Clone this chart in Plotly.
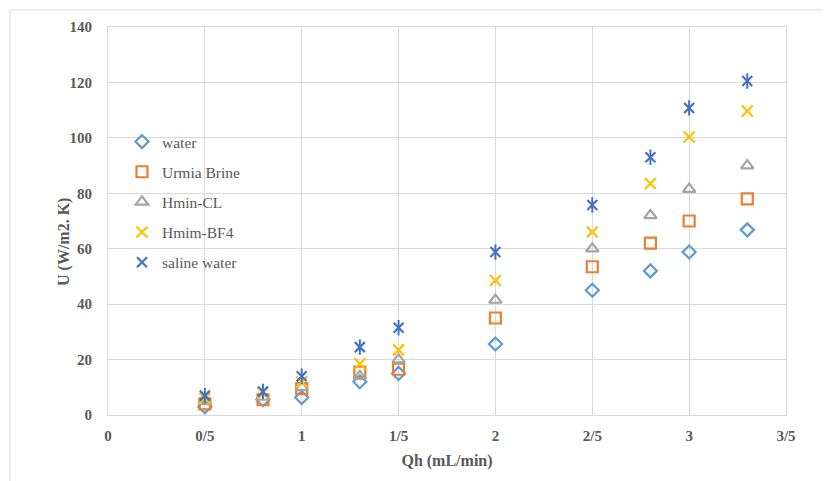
import plotly.graph_objects as go

qh = [0.5, 0.8, 1.0, 1.3, 1.5, 2.0, 2.5, 2.8, 3.0, 3.3]
water = [3, 5.5, 6.3, 12, 15, 25.6, 45, 52, 58.8, 66.8]
urmia = [4, 5.5, 9.5, 15.5, 16.5, 35, 53.5, 62, 70, 78]
hmin_cl = [5, 6.5, 10, 14, 20, 41.5, 60, 72, 81.5, 90]
hmim_bf4 = [6, 8, 12, 18.5, 23.5, 48.5, 66, 83.5, 100.3, 109.7]
saline = [7, 8.5, 14, 24.5, 31.5, 58.8, 75.8, 93, 110.8, 120.5]

x_tickvals = [0, 0.5, 1, 1.5, 2, 2.5, 3, 3.5]
x_ticktext = ["0", "0/5", "1", "1/5", "2", "2/5", "3", "3/5"]
y_tickvals = [0, 20, 40, 60, 80, 100, 120, 140]

font_fam = "Liberation Serif"
txt_col = "#595959"

fig = go.Figure()
series = [
    ("water", water, "diamond-open", "#5B9BD5", 10),
    ("Urmia Brine", urmia, "square-open", "#ED7D31", 11),
    ("Hmin-CL", hmin_cl, "triangle-up-open", "#A5A5A5", 11),
    ("Hmim-BF4", hmim_bf4, "x-thin-open", "#FFC000", 11),
    ("saline water", saline, "x-thin-open", "#4472C4", 10),
]
for name, vals, sym, col, sz in series:
    fig.add_trace(go.Scatter(
        x=qh, y=vals, mode="markers", name=name, legendgroup=name,
        marker=dict(symbol=sym, size=sz, color=col, line=dict(color=col, width=2.2)),
    ))
# vertical bar for the star marker of saline water
fig.add_trace(go.Scatter(
    x=qh, y=saline, mode="markers", name="saline water", legendgroup="saline water",
    showlegend=False,
    marker=dict(symbol="line-ns-open", size=11, color="#4472C4", line=dict(color="#4472C4", width=2)),
))

W, H = 823, 473
L, R, T, B = 100, 45, 19, 66
pw = W - L - R
ph = H - T - B

fig.update_layout(
    width=W, height=H,
    margin=dict(l=L, r=R, t=T, b=B),
    paper_bgcolor="white", plot_bgcolor="white",
    font=dict(family=font_fam, color=txt_col),
    legend=dict(
        x=(122 - 108) / pw, y=1 - (125 - 27) / ph, xanchor="left", yanchor="top",
        font=dict(family=font_fam, size=15.5, color=txt_col),
        bgcolor="rgba(255,255,255,0)", traceorder="grouped", tracegroupgap=7,
        itemwidth=30,
    ),
    showlegend=True,
    shapes=[dict(type="rect", xref="paper", yref="paper",
                 x0=(2 - L) / pw, x1=1.2, y0=-0.3, y1=1 + 17 / ph,
                 line=dict(color="#D9D9D9", width=1), fillcolor="rgba(0,0,0,0)", layer="below")],
    annotations=[dict(text="<b>U (W/m2. K)</b>", textangle=-90, xref="paper", yref="paper",
                      x=(64 - 108) / pw, y=1 - (242 - 27) / ph, xanchor="center", yanchor="middle",
                      showarrow=False, font=dict(family=font_fam, size=16, color=txt_col))],
)
fig.update_xaxes(
    range=[0, 3.5], tickvals=x_tickvals, ticktext=x_ticktext,
    showgrid=True, gridcolor="#D9D9D9", gridwidth=1, zeroline=False,
    showline=True, linecolor="#D9D9D9", mirror=True,
    tickfont=dict(family=font_fam, size=15, color=txt_col, weight="bold"),
    ticks="", ticklabelstandoff=7,
    title=dict(text="<b>Qh (mL/min)</b>", font=dict(family=font_fam, size=16, color=txt_col), standoff=11),
)
fig.update_yaxes(
    range=[0, 140], tickvals=y_tickvals,
    showgrid=True, gridcolor="#D9D9D9", gridwidth=1, zeroline=False,
    showline=True, linecolor="#D9D9D9", mirror=True,
    tickfont=dict(family=font_fam, size=15, color=txt_col, weight="bold"),
    ticks="", ticklabelstandoff=12,
)

fig.write_html("out.html")
